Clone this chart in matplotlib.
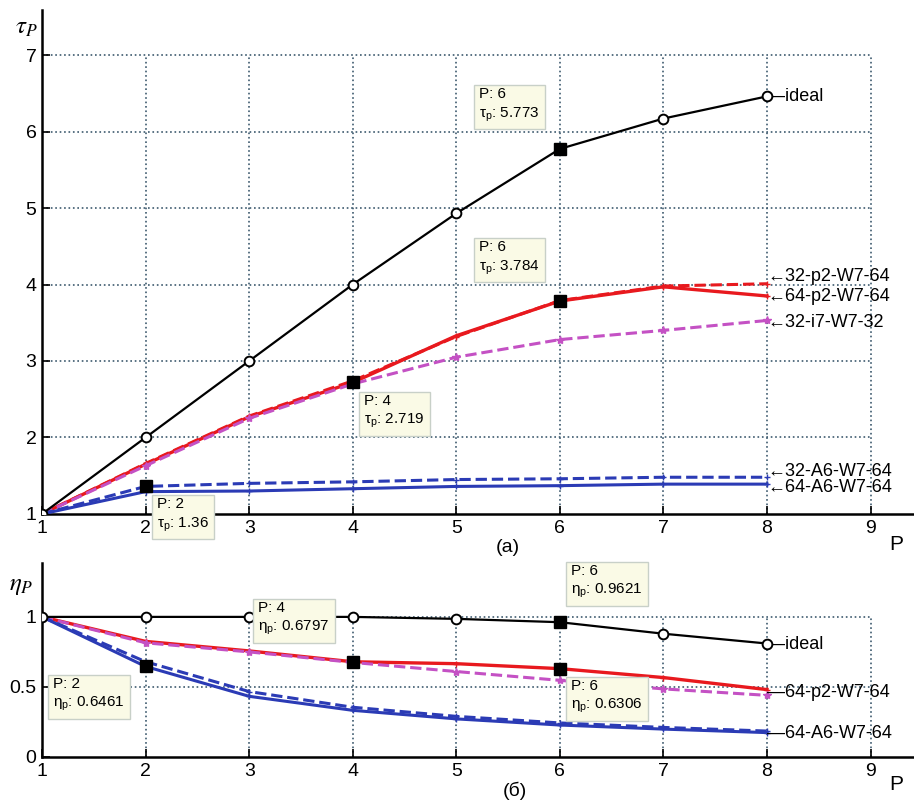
import numpy as np
import matplotlib
matplotlib.use("Agg")
import matplotlib.pyplot as plt

plt.rcParams['font.family'] = ['Liberation Sans', 'DejaVu Sans']

# ---------------------------------------------------------------------------
# data
P = [1, 2, 3, 4, 5, 6, 7, 8]

# (a) speed-up tau_P
tau_ideal = [1, 2, 3, 4, 4.93, 5.773, 6.17, 6.46]
tau_32_p2 = [1, 1.66, 2.28, 2.74, 3.32, 3.79, 3.98, 4.01]
tau_64_p2 = [1, 1.65, 2.27, 2.719, 3.33, 3.784, 3.97, 3.85]
tau_32_i7 = [1, 1.63, 2.25, 2.70, 3.05, 3.28, 3.40, 3.53]
tau_32_a6 = [1, 1.36, 1.40, 1.42, 1.45, 1.46, 1.48, 1.48]
tau_64_a6 = [1, 1.292, 1.30, 1.33, 1.36, 1.37, 1.39, 1.39]

# (б) efficiency eta_P
eta_ideal = [1, 1, 1, 1, 0.986, 0.9621, 0.88, 0.81]
eta_64_p2 = [1, 0.825, 0.757, 0.6797, 0.666, 0.6306, 0.567, 0.481]
eta_32_i7 = [1, 0.815, 0.75, 0.675, 0.61, 0.547, 0.486, 0.44]
eta_32_a6 = [1, 0.68, 0.467, 0.355, 0.29, 0.243, 0.211, 0.185]
eta_64_a6 = [1, 0.6461, 0.433, 0.333, 0.272, 0.228, 0.199, 0.174]

# data tips: (P, value, text position x, text position y)
tips_a = [(6, 5.773, 5.22, 6.58), (6, 3.784, 5.22, 4.58),
          (4, 2.719, 4.11, 2.57), (2, 1.36, 2.11, 1.22)]
tips_b = [(2, 0.6461, 1.106, 0.571), (4, 0.6797, 3.09, 1.114),
          (6, 0.9621, 6.11, 1.379), (6, 0.6306, 6.11, 0.557)]

# line-end labels: (text, y position)
labels_a = [("\u2014ideal", 6.46), ("\u219032-p2-W7-64", 4.10), ("\u219064-p2-W7-64", 3.84),
            ("\u219032-i7-W7-32", 3.50), ("\u219032-A6-W7-64", 1.55), ("\u219064-A6-W7-64", 1.35)]
labels_b = [("\u2014ideal", 0.80), ("\u201464-p2-W7-64", 0.46), ("\u201464-A6-W7-64", 0.17)]

RED = "#e8191e"
MAG = "#c451c4"
BLUE = "#2b3bb5"
GRID = "#3d5a6e"
BOXFACE = "#fafae6"
BOXEDGE = "#c8d0c8"


def setup_axes(ax, ylim, yticks, ygrid):
    ax.set_xlim(1, 9.42)
    ax.set_ylim(*ylim)
    ax.spines['top'].set_visible(False)
    ax.spines['right'].set_visible(False)
    ax.spines['left'].set_linewidth(1.8)
    ax.spines['bottom'].set_linewidth(1.8)
    ax.set_xticks(range(1, 10))
    ax.set_yticks(yticks)
    ax.tick_params(direction='in', length=6, width=1.2, labelsize=14, pad=4)
    # dotted grid limited to the box 1..9 x ymin..ygrid
    ax.hlines([y for y in yticks if y > ylim[0]], 1, 9, colors=GRID, linestyles=':', lw=1.2, zorder=0)
    ax.vlines(range(2, 10), ylim[0], ygrid, colors=GRID, linestyles=':', lw=1.2, zorder=0)


def add_tips(ax, tips, sym):
    for p, v, tx, ty in tips:
        ax.plot(p, v, 's', color='black', ms=9, zorder=6)
        ax.text(tx, ty, "P: %d\n$\\mathregular{%s_p}$: %s" % (p, sym, ("%g" % v)), fontsize=11,
                ha='left', va='top', linespacing=1.35, zorder=7,
                bbox=dict(boxstyle='square,pad=0.35', fc=BOXFACE, ec=BOXEDGE, lw=1))


fig = plt.figure(figsize=(9.14, 8.09), dpi=100)

# ---------------- (a) ----------------
ax1 = fig.add_axes([0.046, 0.3647, 0.954, 0.623])
setup_axes(ax1, (1, 7.59), [1, 2, 3, 4, 5, 6, 7], 7)
ax1.plot(P, tau_ideal, '-', color='black', lw=1.6, marker='o', ms=7, mfc='white', mew=1.4, zorder=4)
ax1.plot(P, tau_32_p2, '--', color=RED, lw=2.2, marker='+', ms=5, zorder=3)
ax1.plot(P, tau_64_p2, '-', color=RED, lw=2.4, marker='+', ms=5, zorder=3)
ax1.plot(P, tau_32_i7, '--', color=MAG, lw=2.2, marker='*', ms=6, zorder=3)
ax1.plot(P, tau_32_a6, '--', color=BLUE, lw=2.2, marker='+', ms=5, zorder=3)
ax1.plot(P, tau_64_a6, '-', color=BLUE, lw=2.2, marker='+', ms=5, zorder=3)
add_tips(ax1, tips_a, r"\tau")
for txt, y in labels_a:
    ax1.text(8.0, y, txt, fontsize=13, ha='left', va='center')
ax1.text(0.85, 7.37, r"$\tau_P$", fontsize=18, math_fontfamily='stix', ha='center', va='center')
ax1.text(9.25, 0.6, "P", fontsize=15, ha='center', va='center')
ax1.text(5.5, 0.56, "(a)", fontsize=14, ha='center', va='center')

# ---------------- (б) ----------------
ax2 = fig.add_axes([0.046, 0.0643, 0.954, 0.240])
setup_axes(ax2, (0, 1.386), [0, 0.5, 1], 1)
ax2.set_yticklabels(["0", "0.5", "1"])
ax2.plot(P, eta_ideal, '-', color='black', lw=1.6, marker='o', ms=7, mfc='white', mew=1.4, zorder=4)
ax2.plot(P, eta_64_p2, '-', color=RED, lw=2.4, marker='+', ms=5, zorder=3)
ax2.plot(P, eta_32_i7, '--', color=MAG, lw=2.2, marker='*', ms=6, zorder=3)
ax2.plot(P, eta_32_a6, '--', color=BLUE, lw=2.2, marker='+', ms=5, zorder=3)
ax2.plot(P, eta_64_a6, '-', color=BLUE, lw=2.2, marker='+', ms=5, zorder=3)
add_tips(ax2, tips_b, r"\eta")
for txt, y in labels_b:
    ax2.text(8.0, y, txt, fontsize=13, ha='left', va='center')
ax2.text(0.8, 1.23, r"$\eta_P$", fontsize=18, math_fontfamily='stix', ha='center', va='center')
ax2.text(9.25, -0.2, "P", fontsize=15, ha='center', va='center')
ax2.text(5.57, -0.24, "(б)", fontsize=14, ha='center', va='center')

fig.savefig("out.png", dpi=100)
